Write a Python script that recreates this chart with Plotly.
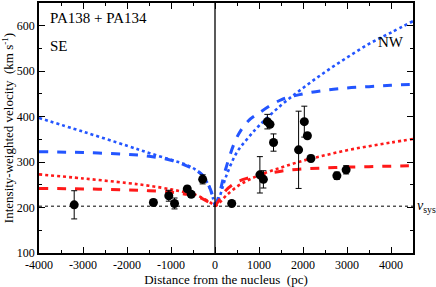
import plotly.graph_objects as go

# ---- observed data ----
se_x = [-3200, -1400, -1050, -920, -630, -540, -280]
se_y = [206, 211, 226, 209, 241, 229, 262]
se_err = [31, 7, 12, 12, 6, 6, 10]

nw_x = [380, 1020, 1100, 1190, 1250, 1330, 1900, 2030, 2100, 2180, 2770, 2980]
nw_y = [209, 272, 262, 389, 383, 343, 327, 389, 358, 308, 270, 283]
nw_err = [0, 40, 19, 16, 5, 19, 85, 34, 5, 7, 8, 9]

# ---- model curves ----
se_cx = [-4000, -3000, -2000, -1500, -1000, -700, -500, -300, -150, -50, 0]
se_blue_dot = [397, 367, 336, 320, 305, 296, 287, 272, 250, 222, 205]
se_blue_dash = [323, 321, 317, 313, 304, 294, 285, 273, 250, 225, 205]
se_red_dot = [273, 264, 254, 248, 240, 234, 230, 222, 214, 207, 203]
se_red_dash = [242, 241, 239, 237, 234, 230, 227, 220, 212, 206, 203]

nw_cx = [0, 50, 100, 250, 500, 750, 1000, 1500, 2000, 2500, 3000, 3500, 4000, 4500]
nw_blue_dot = [205, 212, 222, 268, 322, 353, 380, 425, 463, 498, 530, 560, 585, 610]
nw_blue_dash = [205, 215, 230, 287, 355, 390, 408, 437, 450, 458, 463, 466, 469, 471]
nw_red_dot = [203, 206, 210, 226, 246, 260, 271, 288, 303, 315, 326, 335, 343, 351]
nw_red_dash = [203, 210, 217, 238, 256, 265, 271, 280, 285, 287, 289, 290, 291, 292]

v_sys = 203

x_ticks = [-4000, -3000, -2000, -1000, 0, 1000, 2000, 3000, 4000]
y_ticks = [100, 200, 300, 400, 500, 600]

BLUE = "rgb(35,85,255)"
RED = "rgb(255,25,25)"
FONT = "Liberation Serif, Times New Roman, DejaVu Serif, serif"

fig = go.Figure()

def curve(x, y, color, dash, width):
    fig.add_trace(go.Scatter(x=x, y=y, mode="lines",
                             line=dict(color=color, dash=dash, width=width, shape="spline"),
                             showlegend=False, hoverinfo="skip"))

curve(se_cx, se_blue_dot, BLUE, "dot", 2.6)
curve(se_cx, se_blue_dash, BLUE, "dash", 3)
curve(se_cx, se_red_dot, RED, "dot", 2.6)
curve(se_cx, se_red_dash, RED, "dash", 3)
curve(nw_cx, nw_blue_dot, BLUE, "dot", 2.6)
curve(nw_cx, nw_blue_dash, BLUE, "dash", 3)
curve(nw_cx, nw_red_dot, RED, "dot", 2.6)
curve(nw_cx, nw_red_dash, RED, "dash", 3)

# systemic velocity line
fig.add_trace(go.Scatter(x=[-4000, 4500], y=[v_sys, v_sys], mode="lines",
                         line=dict(color="black", dash="3px,3px", width=1),
                         showlegend=False, hoverinfo="skip"))
# nucleus line
fig.add_trace(go.Scatter(x=[0, 0], y=[100, 650], mode="lines",
                         line=dict(color="black", width=1.3),
                         showlegend=False, hoverinfo="skip"))

for xs, ys, es in [(se_x, se_y, se_err), (nw_x, nw_y, nw_err)]:
    fig.add_trace(go.Scatter(x=xs, y=ys, mode="markers",
                             marker=dict(color="black", size=9),
                             error_y=dict(type="data", array=es, color="black",
                                          thickness=1, width=3),
                             showlegend=False))

axis_common = dict(showline=True, linecolor="black", linewidth=1.5, mirror="allticks",
                   ticks="inside", ticklen=6, tickwidth=1, tickcolor="black",
                   showgrid=False, zeroline=False,
                   tickfont=dict(family=FONT, size=12, color="black"))

fig.update_xaxes(range=[-4000, 4500], tickvals=x_ticks,
                 ticktext=[str(v) for v in x_ticks],
                 minor=dict(ticks="inside", ticklen=3, dtick=500, tick0=0, tickcolor="black"),
                 title=dict(text="Distance from the nucleus  (pc)", standoff=4,
                            font=dict(family=FONT, size=13, color="black")),
                 **axis_common)
fig.update_yaxes(range=[100, 650], tickvals=y_ticks,
                 ticktext=[str(v) for v in y_ticks],
                 minor=dict(ticks="inside", ticklen=3, dtick=50, tick0=0, tickcolor="black"),
                 title=dict(text="Intensity-weighted velocity  (km s<sup>-1</sup>)", standoff=4,
                            font=dict(family=FONT, size=13, color="black")),
                 **axis_common)

ann_font = dict(family=FONT, size=15, color="black")
fig.add_annotation(x=-3800, y=640, text="PA138 + PA134", showarrow=False,
                   xanchor="left", yanchor="top", font=ann_font)
fig.add_annotation(x=-3800, y=555, text="SE", showarrow=False,
                   xanchor="left", yanchor="middle", font=ann_font)
fig.add_annotation(x=4350, y=565, text="NW", showarrow=False,
                   xanchor="right", yanchor="middle", font=ann_font)
fig.add_annotation(xref="paper", x=1.005, y=v_sys, text="<i>v</i><sub>sys</sub>",
                   showarrow=False, xanchor="left", yanchor="middle",
                   font=dict(family=FONT, size=14, color="black"))

fig.update_layout(width=436, height=287, margin=dict(l=39, r=23, t=1, b=34),
                  plot_bgcolor="white", paper_bgcolor="white")

fig.write_html("out.html", config={"displayModeBar": False},
               post_script="document.body.style.margin='0';document.body.style.overflow='hidden';")
